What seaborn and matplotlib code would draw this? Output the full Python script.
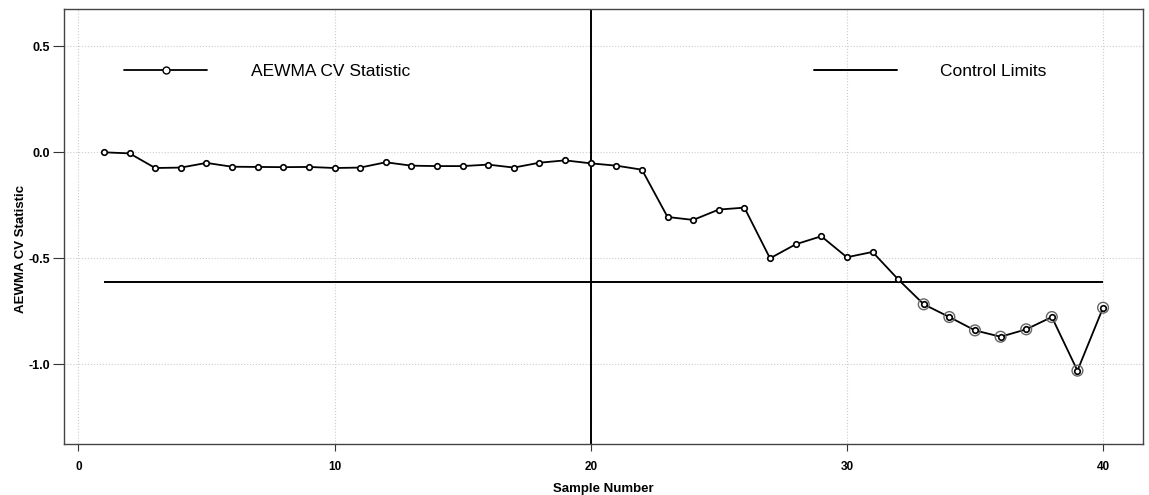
import numpy as np
import pandas as pd
import seaborn as sns
import matplotlib.pyplot as plt
from matplotlib import font_manager
from matplotlib.lines import Line2D

sample = list(range(1, 41))
aewma_cv = [0.000, -0.005, -0.074, -0.072, -0.050, -0.068, -0.069, -0.070, -0.069, -0.074,
            -0.072, -0.047, -0.063, -0.065, -0.065, -0.058, -0.072, -0.049, -0.038, -0.052,
            -0.063, -0.082, -0.305, -0.319, -0.270, -0.261, -0.500, -0.434, -0.396, -0.495,
            -0.470, -0.599, -0.717, -0.777, -0.840, -0.870, -0.835, -0.777, -1.030, -0.733]
control_limit = -0.61
change_point = 20
x_ticks = [0, 10, 20, 30, 40]
y_ticks = [0.5, 0.0, -0.5, -1.0]

df = pd.DataFrame({"sample": sample, "stat": aewma_cv})
out = df[df["stat"] < control_limit]

sns.set_theme(style="whitegrid")
names = {f.name for f in font_manager.fontManager.ttflist}
narrow = "Liberation Sans Narrow" if "Liberation Sans Narrow" in names else "Liberation Sans"
plt.rcParams["font.family"] = ["Liberation Sans", "DejaVu Sans"]
plt.rcParams["text.color"] = "black"

fig = plt.figure(figsize=(11.49, 4.95), dpi=100)
ax = fig.add_axes([0.0557, 0.103, 0.9391, 0.8788])

ax.grid(True, color="#cccccc", linestyle=":", linewidth=0.8)
ax.set_facecolor("white")

ax.axvline(change_point, color="black", linewidth=1.4, zorder=2)
ax.hlines(control_limit, df["sample"].min(), df["sample"].max(), color="black", linewidth=1.4, zorder=2)

sns.lineplot(data=df, x="sample", y="stat", ax=ax, color="black", linewidth=1.3,
             marker="o", markersize=4, markerfacecolor="white", markeredgecolor="black",
             markeredgewidth=1.2, zorder=3)
sns.scatterplot(data=out, x="sample", y="stat", ax=ax, s=60, facecolor="none",
                edgecolor="#666666", linewidth=1.0, zorder=4)

ax.set_xlim(-0.56, 41.56)
ax.set_ylim(-1.376, 0.676)
ax.set_xticks(x_ticks)
ax.set_yticks(y_ticks)
ax.set_yticklabels([f"{v:.1f}" for v in y_ticks])
ax.tick_params(axis="x", direction="out", length=5, width=0.8, color="#333333",
               labelsize=8.5, labelcolor="black", bottom=True, pad=7)
ax.tick_params(axis="y", direction="out", length=8, width=0.8, color="#333333",
               labelsize=9, labelcolor="black", left=True, pad=2)
for lab in ax.get_xticklabels():
    lab.set_fontweight("bold")
    lab.set_fontfamily(narrow)
for lab in ax.get_yticklabels():
    lab.set_fontweight("bold")

for sp in ax.spines.values():
    sp.set_color("#444444")
    sp.set_linewidth(1.0)

ax.set_xlabel("Sample Number", fontsize=9.5, fontweight="bold", family=narrow, color="black")
ax.xaxis.set_label_coords(0.5, -0.09)
ax.set_ylabel("AEWMA CV Statistic", fontsize=9.5, fontweight="bold", color="black")
ax.yaxis.set_label_coords(-0.0343, 0.448)

handles = [
    Line2D([], [], color="black", linewidth=1.3, marker="o", markersize=5,
           markerfacecolor="white", markeredgecolor="black"),
    Line2D([], [], color="black", linewidth=1.4),
]
ax.legend(handles, ["AEWMA CV Statistic", "Control Limits"], ncol=2, frameon=False,
          loc="center left", bbox_to_anchor=(0.0556, 0.857), borderpad=0, borderaxespad=0,
          fontsize=12.5, handlelength=4.8, handletextpad=2.5, columnspacing=23.25,
          labelcolor="black")

fig.savefig("out.png", dpi=100)
